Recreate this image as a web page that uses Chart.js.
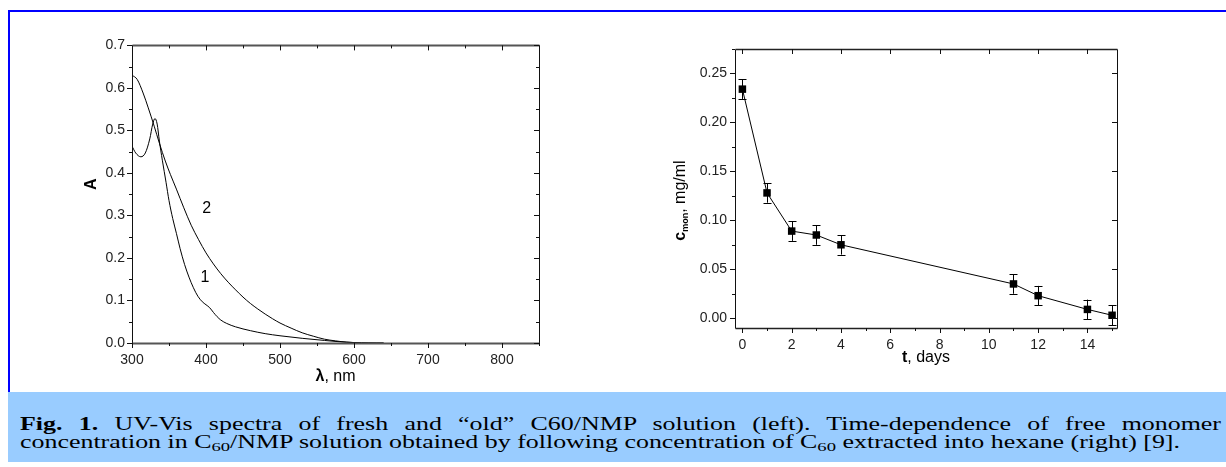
<!DOCTYPE html>
<html><head><meta charset="utf-8">
<script src="https://cdn.jsdelivr.net/npm/chart.js@4/dist/chart.umd.min.js"></script>
<style>
html,body{margin:0;padding:0;background:#fff;}
body{width:1226px;height:467px;position:relative;overflow:hidden;font-family:"Liberation Sans",Arial,sans-serif;}
#borderTop{position:absolute;left:8px;top:10px;width:1218px;height:2px;background:#0000ff;}
#borderLeft{position:absolute;left:8px;top:10px;width:2px;height:382px;background:#0000ff;}
#caption{position:absolute;left:8px;top:392px;width:1218px;height:70px;background:#99ccff;font-family:"Liberation Serif","Times New Roman",serif;color:#000;}
#cap1{position:absolute;left:12px;text-align:justify;text-align-last:justify;line-height:1;white-space:nowrap;transform-origin:0 0;}
#cap2{position:absolute;left:12px;display:inline-block;line-height:1;white-space:nowrap;transform-origin:0 0;}
#cap1 sub,#cap2 sub{font-size:0.72em;vertical-align:-0.25em;line-height:0;}
canvas{position:absolute;}
#leftChart{left:60px;top:30px;}
#rightChart{left:670px;top:30px;}
</style>
</head><body>
<div id="borderTop"></div><div id="borderLeft"></div>
<canvas id="leftChart" width="500" height="360"></canvas>
<canvas id="rightChart" width="480" height="360"></canvas>
<div id="caption">
<div id="cap1"><b>Fig. 1.</b> UV-Vis spectra of fresh and “old” C60/NMP solution (left). Time-dependence of free monomer</div>
<div id="cap2">concentration in C<sub>60</sub>/NMP solution obtained by following concentration of C<sub>60</sub> extracted into hexane (right) [9].</div>
</div>
<script>
// ---------- DATA ----------
// Left chart: UV-Vis spectra
const wavelength1 = [300,305,312,318,324,328,331,334,337,341,346,350,355,360,365,371,377,383,389,395,400,405,410,415,420,428,440,460,480,500,530,560,580,600,620,640];
const absorbance1 = [0.463,0.447,0.438,0.447,0.480,0.515,0.528,0.515,0.475,0.430,0.378,0.335,0.293,0.258,0.222,0.185,0.155,0.130,0.110,0.097,0.090,0.083,0.072,0.062,0.054,0.046,0.038,0.029,0.022,0.017,0.011,0.006,0.003,0.001,0.000,0.000];
const wavelength2 = [300,307,315,322,330,337,345,352,360,370,380,390,400,410,420,430,440,450,460,470,480,490,500,515,530,545,560,575,590,610,630,640];
const absorbance2 = [0.630,0.620,0.588,0.553,0.510,0.470,0.428,0.396,0.362,0.318,0.277,0.243,0.212,0.186,0.163,0.143,0.125,0.108,0.093,0.080,0.068,0.057,0.047,0.035,0.024,0.016,0.009,0.005,0.002,0.0005,0.000,0.000];
const spectrumLabels = ['1','2'];
const xTickLeft = {min:300, max:850, step:100};
const yTickLeft = {min:0, max:0.7, step:0.1};

// Right chart: free monomer concentration vs time
const days = [0,1,2,3,4,11,12,14,15];
const concentration = [0.234,0.128,0.089,0.085,0.075,0.035,0.023,0.009,0.003];
const concError = [0.010,0.010,0.010,0.010,0.010,0.010,0.010,0.010,0.010];
const xTickRight = {min:-0.3, max:15.2, step:2};
const yTickRight = {min:-0.01, max:0.275, step:0.05};

// ---------- HELPERS ----------
function drawRich(ctx, segs, x, y, rot) {
  ctx.save();
  ctx.translate(x, y);
  if (rot) ctx.rotate(rot);
  let total = 0;
  segs.forEach(s => { ctx.font = s.font; s.w = ctx.measureText(s.text).width; total += s.w; });
  let cx = -total / 2;
  ctx.textBaseline = 'middle';
  ctx.textAlign = 'left';
  ctx.fillStyle = '#000';
  segs.forEach(s => { ctx.font = s.font; ctx.fillText(s.text, cx, s.dy || 0); cx += s.w; });
  ctx.restore();
}

const frameTicks = {
  id: 'frameTicks',
  afterDraw(chart, args, o) {
    const {ctx, chartArea: a} = chart;
    const xs = chart.scales.x, ys = chart.scales.y;
    const L = Math.round(a.left)+0.5, R = Math.round(a.right)+0.5, T = Math.round(a.top)+0.5, B = Math.round(a.bottom)+0.5;
    ctx.save();
    // vertical frame lines
    ctx.strokeStyle = '#111'; ctx.lineWidth = 1;
    ctx.beginPath(); ctx.moveTo(L, T); ctx.lineTo(L, B); ctx.moveTo(R, T); ctx.lineTo(R, B); ctx.stroke();
    // horizontal frame lines
    ctx.strokeStyle = o.hColor || '#111'; ctx.lineWidth = o.hWidth || 1;
    ctx.beginPath(); ctx.moveTo(L, T); ctx.lineTo(R, T); ctx.moveTo(L, B); ctx.lineTo(R, B); ctx.stroke();
    ctx.strokeStyle = '#111'; ctx.lineWidth = 1;
    const eps = 1e-6;
    const isMajor = (v, step) => Math.abs(v/step - Math.round(v/step)) < 1e-4;
    ctx.beginPath();
    for (let k = Math.ceil(xs.min/o.xMinor - eps); k*o.xMinor <= xs.max + eps; k++) {
      const v = k*o.xMinor, px = Math.round(xs.getPixelForValue(v))+0.5;
      const maj = isMajor(v, o.xMajor);
      const len = maj ? o.majorLen : o.minorLen;
      ctx.moveTo(px, a.bottom); ctx.lineTo(px, a.bottom + len);
      if (maj || o.mirrorMinor) { const ml = maj ? o.mirrorMajor : o.mirrorMinorLen; ctx.moveTo(px, a.top); ctx.lineTo(px, a.top + ml); }
    }
    for (let k = Math.ceil(ys.min/o.yMinor - eps); k*o.yMinor <= ys.max + eps; k++) {
      const v = k*o.yMinor, py = Math.round(ys.getPixelForValue(v))+0.5;
      const maj = isMajor(v, o.yMajor);
      const len = maj ? o.majorLen : o.minorLen;
      ctx.moveTo(a.left, py); ctx.lineTo(a.left - len, py);
      if (maj || o.mirrorMinor) { const ml = maj ? o.mirrorMajor : o.mirrorMinorLen; ctx.moveTo(a.right, py); ctx.lineTo(a.right - ml, py); }
    }
    ctx.stroke();
    ctx.restore();
    if (o.xTitle) drawRich(ctx, o.xTitle, (a.left+a.right)/2, a.bottom + o.xTitleOffset, 0);
    if (o.yTitle) drawRich(ctx, o.yTitle, a.left - o.yTitleOffset, (a.top+a.bottom)/2 + (o.yTitleShift||0), -Math.PI/2);
    if (o.curveLabels) {
      o.curveLabels.forEach(l => {
        ctx.save();
        ctx.font = '16px "Liberation Sans", Arial, sans-serif';
        ctx.fillStyle = '#000'; ctx.textAlign = 'center'; ctx.textBaseline = 'middle';
        ctx.fillText(l.text, xs.getPixelForValue(l.x), ys.getPixelForValue(l.y));
        ctx.restore();
      });
    }
  }
};

const errorBars = {
  id: 'errorBars',
  beforeDatasetsDraw(chart, args, o) {
    if (!o.errors) return;
    const {ctx} = chart;
    const xs = chart.scales.x, ys = chart.scales.y;
    const ds = chart.data.datasets[0];
    ctx.save();
    ctx.strokeStyle = '#000'; ctx.lineWidth = 1;
    ctx.beginPath();
    ds.data.forEach((p, i) => {
      const px = Math.round(xs.getPixelForValue(p.x)) + 0.5;
      const y1 = ys.getPixelForValue(p.y + o.errors[i]);
      const y2 = ys.getPixelForValue(p.y - o.errors[i]);
      ctx.moveTo(px, y1); ctx.lineTo(px, y2);
      ctx.moveTo(px - 4, Math.round(y1)+0.5); ctx.lineTo(px + 4, Math.round(y1)+0.5);
      ctx.moveTo(px - 4, Math.round(y2)+0.5); ctx.lineTo(px + 4, Math.round(y2)+0.5);
    });
    ctx.stroke();
    ctx.restore();
  }
};

const tickFont = {family: '"Liberation Sans", Arial, sans-serif', size: 14};
const SANS = '"Liberation Sans", Arial, sans-serif';

// ---------- LEFT CHART ----------
new Chart(document.getElementById('leftChart'), {
  type: 'line',
  data: {
    datasets: [
      {label: spectrumLabels[0], data: wavelength1.map((w,i)=>({x:w, y:absorbance1[i]})), borderColor:'#000', borderWidth:1, pointRadius:0, cubicInterpolationMode:'monotone', fill:false},
      {label: spectrumLabels[1], data: wavelength2.map((w,i)=>({x:w, y:absorbance2[i]})), borderColor:'#000', borderWidth:1, pointRadius:0, cubicInterpolationMode:'monotone', fill:false}
    ]
  },
  options: {
    responsive:false, animation:false, devicePixelRatio:1,
    layout:{padding:{left:0, right:21, top:11, bottom:0}},
    plugins:{
      legend:{display:false}, tooltip:{enabled:false},
      frameTicks:{xMajor:100, xMinor:50, yMajor:0.1, yMinor:0.05, majorLen:5, minorLen:3, mirrorMajor:5, mirrorMinor:true, mirrorMinorLen:3,
        hColor:'#555', hWidth:2,
        xTitle:[{text:'λ', font:'bold 16px '+SANS},{text:', nm', font:'16px '+SANS}], xTitleOffset:34,
        yTitle:[{text:'A', font:'bold 16px '+SANS}], yTitleOffset:40, yTitleShift:-10,
        curveLabels:[{text:spectrumLabels[1], x:401, y:0.316},{text:spectrumLabels[0], x:398.6, y:0.154}]
      }
    },
    scales:{
      x:{type:'linear', min:xTickLeft.min, max:xTickLeft.max,
         ticks:{stepSize:xTickLeft.step, includeBounds:false, padding:9, font:tickFont, color:'#222', maxRotation:0, callback:v=>String(v)},
         grid:{display:false, drawTicks:false}, border:{display:false},
         afterFit(s){ s.height = 47; }},
      y:{type:'linear', min:yTickLeft.min, max:yTickLeft.max,
         ticks:{stepSize:yTickLeft.step, includeBounds:false, padding:7, font:tickFont, color:'#222', callback:v=>Number(v).toFixed(1)},
         grid:{display:false, drawTicks:false}, border:{display:false},
         afterFit(s){ s.width = 72; }}
    }
  },
  plugins:[frameTicks]
});

// ---------- RIGHT CHART ----------
new Chart(document.getElementById('rightChart'), {
  type: 'line',
  data: {
    datasets: [
      {label:'c_mon', data: days.map((d,i)=>({x:d, y:concentration[i]})), borderColor:'#000', borderWidth:1,
       pointStyle:'rect', pointRadius:5.3, pointBackgroundColor:'#000', pointBorderColor:'#000', pointBorderWidth:0, tension:0, fill:false}
    ]
  },
  options: {
    responsive:false, animation:false, devicePixelRatio:1,
    layout:{padding:{left:0, right:33, top:19, bottom:0}},
    plugins:{
      legend:{display:false}, tooltip:{enabled:false},
      errorBars:{errors:concError},
      frameTicks:{xMajor:2, xMinor:1, yMajor:0.05, yMinor:0.025, majorLen:5, minorLen:3, mirrorMajor:5, mirrorMinor:false, mirrorMinorLen:0,
        hColor:'#222', hWidth:1.5,
        xTitle:[{text:'t', font:'bold 16px '+SANS},{text:', days', font:'16px '+SANS}], xTitleOffset:30,
        yTitle:[{text:'c', font:'bold 16px '+SANS},{text:'mon', font:'bold 9px '+SANS, dy:5},{text:', mg/ml', font:'16px '+SANS}], yTitleOffset:54, yTitleShift:12
      }
    },
    scales:{
      x:{type:'linear', min:xTickRight.min, max:xTickRight.max,
         ticks:{stepSize:xTickRight.step, includeBounds:false, padding:9, font:tickFont, color:'#222', maxRotation:0, callback:v=>String(v)},
         grid:{display:false, drawTicks:false}, border:{display:false},
         afterFit(s){ s.height = 62; }},
      y:{type:'linear', min:yTickRight.min, max:yTickRight.max,
         ticks:{stepSize:yTickRight.step, includeBounds:false, padding:8, font:tickFont, color:'#222', callback:v=>Number(v).toFixed(2)},
         grid:{display:false, drawTicks:false}, border:{display:false},
         afterFit(s){ s.width = 65; }}
    }
  },
  plugins:[frameTicks, errorBars]
});

// ---------- CAPTION LAYOUT ----------
(function(){
  const c1 = document.getElementById('cap1'), c2 = document.getElementById('cap2');
  const fs = 18;
  c1.style.fontSize = fs + 'px';
  c2.style.fontSize = fs + 'px';
  const w = c2.getBoundingClientRect().width;
  const k = 1160 / w;
  c2.style.transform = 'scaleX(' + k + ')';
  c1.style.width = (1201 / k) + 'px';
  c1.style.transform = 'scaleX(' + k + ')';
  c1.style.top = (430 - 392 - 0.8375*fs) + 'px';
  c2.style.top = (448 - 392 - 0.8375*fs) + 'px';
})();
</script>
</body></html>
